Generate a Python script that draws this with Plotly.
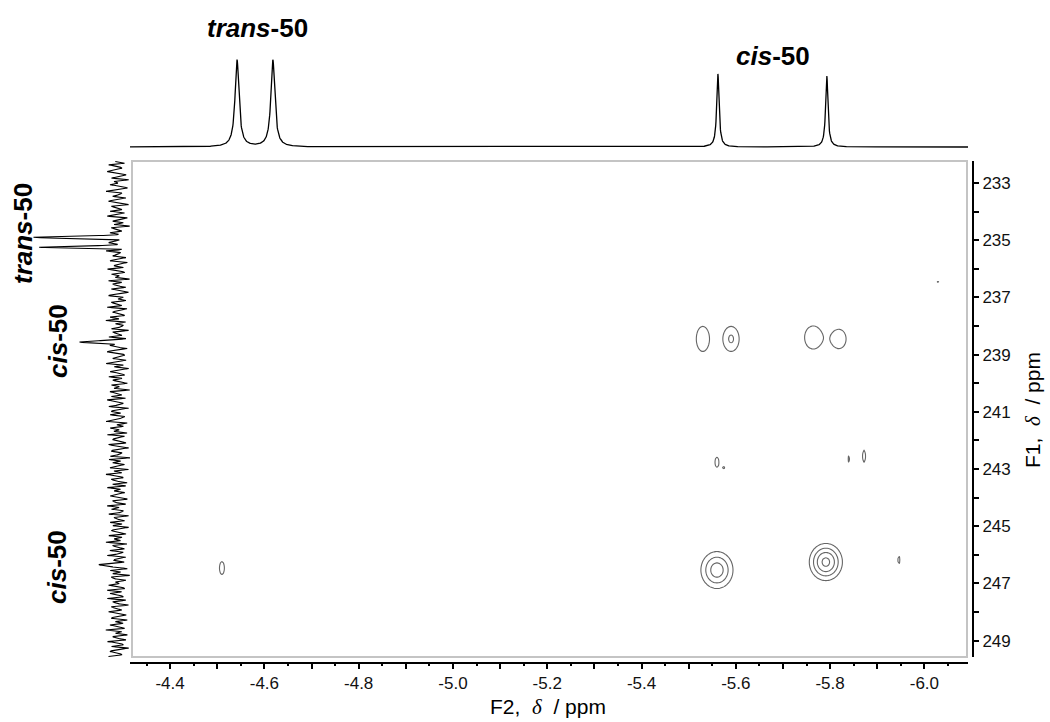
import numpy as np
import plotly.graph_objects as go

# ---------------- data ----------------
# Top (F2, 1H) projection peaks
top_ppm = [-4.542, -4.618, -5.562, -5.793]
top_height = [1.0, 1.0, 0.84, 0.82]
top_fwhm = [0.010, 0.010, 0.006, 0.006]

# Left (F1) projection peaks
left_ppm = [234.89, 235.24, 238.56, 246.36]
left_height = [1.0, 0.975, 0.5, 0.25]
left_sigma = [0.035, 0.035, 0.035, 0.035]

# Left projection baseline noise (read approximately)
left_noise = [
    2, -5, 7, -1, -3, 4, 8, 1, -6, -2, 5, -8, 3, 0, 6, -4, -7, 2, 9, -3,
    -1, 4, -6, 3, 7, -2, -8, 5, 1, -3, 6, -5, 2, 8, -7, -1, 4, -4, 3, -9,
    5, 1, -3, 6, -2, -6, 8, -4, 2, 7, -1, -5, 3, -8, 9, -2, 0, 4, -6, 2,
    6, -7, 1, 3, -4, 8, -2, -5, 5, -1, 2, -9, 7, -3, 4, 1, -6, 5, -2, -8,
    3, 7, -4, 0, -6, 5, 2, -3, 8, -7, 1, 4, -2, -5, 6, -1, 9, -6, 2, -4,
    -2, 5, -8, 4, 1, -3, 7, -6, 3, -1, -4, 6, 2, -7, 5, 8, -3, -5, 1, 4,
    -6, 2, 9, -4, 3, -8, 1, 6, -2, -5, 7, -3, 4, 0, -7, 5, -1, 3, -9, 6,
    1, -3, 5, -6, 8, 2, -4, -1, 7, -8, 3, 5, -2, 6, -5, -3, 4, 9, -7, 1,
    -4, 6, -1, 3, -7, 8, -5, 2, 4, -2, -6, 7, 1, -8, 3, 5, -3, -1, 6, -9,
    7, -2, 4, -5, 1, 6, -8, 3, -3, 9, -1, -4, 5, 2, -7, 4, -6, 8, -2, 3,
    -5, 1, 6, -3, -7, 4, 2, -6, 8, -1, 5, -4, -2, 7, -8, 3, 1, -5, 6, -3,
    4, -8, 2, 5, -1, -6, 7, -3, 3, -2, 9, -7, 4, 1, -5, 6, -4, -1, 8, -6,
    2, 3, -5, 7, -4, 1, -7, 6, -2, 4, -9, 5, 3, -6, 2, -1, 7, -3, -5, 8,
    -3, 6, -2, -4, 8, -6, 4, 1, -8, 5, 2, -3, 7, -1, -6, 3, 5, -7, 2, -4,
    6, -1, -5, 9, -3, 2, -7, 4, 1, -6, 8, -2, -4, 5, -8, 3, 6, -1, -3, 7,
]
noise_scale = 0.017

# 2D cross peaks (F2 ppm, F1 ppm, amplitude, widths in ppm)
peak_f2 = [-5.530, -5.590, -5.764, -5.819, -5.560, -5.791, -5.946, -4.510,
           -6.029, -5.560, -5.575, -5.840, -5.872]
peak_f1 = [238.45, 238.45, 238.40, 238.45, 246.53, 246.25, 246.18, 246.46,
           236.46, 242.76, 242.95, 242.65, 242.55]
peak_amp = [1.5, 1.8, 1.6, 1.5, 2.8, 3.3, 1.1, 1.3, 1.05, 1.2, 1.03, 1.1, 1.15]
peak_sx = [0.0153, 0.0157, 0.0186, 0.0165, 0.0237, 0.0227, 0.005, 0.0073,
           0.006, 0.007, 0.004, 0.004, 0.006]
peak_sy = [0.485, 0.403, 0.415, 0.369, 0.45, 0.42, 0.32, 0.31,
           0.10, 0.29, 0.08, 0.30, 0.40]

f2_range = [-4.315, -6.0925]
f1_range = [249.57, 232.23]

# ---------------- derived traces ----------------
FONT = "Liberation Sans, Arial, sans-serif"

# top projection
tx = np.linspace(f2_range[0], f2_range[1], 3000)
ty = np.zeros_like(tx)
for p, h, w in zip(top_ppm, top_height, top_fwhm):
    ty += h / (1 + ((tx - p) / (w / 2)) ** 2)

# left projection
f1_lo, f1_hi = 232.25, 249.55
noise_y = np.linspace(f1_lo, f1_hi, len(left_noise))
ly = np.linspace(f1_lo, f1_hi, 4000)
lx = np.interp(ly, noise_y, np.array(left_noise) * noise_scale)
for p, h, s in zip(left_ppm, left_height, left_sigma):
    lx += h * np.exp(-0.5 * ((ly - p) / s) ** 2)

# 2D grid
gx = np.arange(-4.30, -6.10, -0.003)
gy = np.arange(232.2, 249.6, 0.05)
X, Y = np.meshgrid(gx, gy)
Z = np.zeros_like(X)
for x0, y0, a, sx, sy in zip(peak_f2, peak_f1, peak_amp, peak_sx, peak_sy):
    Z += a * np.exp(-0.5 * (((X - x0) / sx) ** 2 + ((Y - y0) / sy) ** 2))
Z = np.round(Z, 3)

fig = go.Figure()
fig.add_trace(go.Contour(
    x=gx, y=gy, z=Z, autocontour=False,
    contours=dict(start=1, end=3.2, size=0.7, coloring="lines"),
    line=dict(width=1.1),
    colorscale=[[0, "#666666"], [1, "#666666"]],
    showscale=False, hoverinfo="skip", xaxis="x", yaxis="y",
))
fig.add_trace(go.Scatter(x=tx, y=ty, mode="lines",
                         line=dict(color="black", width=1.3),
                         xaxis="x2", yaxis="y2", hoverinfo="skip"))
fig.add_trace(go.Scatter(x=lx, y=ly, mode="lines",
                         line=dict(color="black", width=1.1),
                         xaxis="x3", yaxis="y3", hoverinfo="skip"))

W, H = 1050, 722
def px(xp):
    return xp / W
def py(yp):
    return 1 - yp / H

xt = [round(-4.4 - 0.1 * i, 1) for i in range(17)]
xt_text = [f"{v:.1f}" if i % 2 == 0 else "" for i, v in enumerate(xt)]
yt = list(range(233, 250))
yt_text = [str(v) if v % 2 == 1 else "" for v in yt]

def ann(text, x, y, size, angle=0, **kw):
    return dict(text=text, x=px(x), y=py(y), xref="paper", yref="paper",
                showarrow=False, xanchor="center", yanchor="middle",
                textangle=angle, font=dict(size=size, family=FONT, color="black"),
                **kw)

DELTA = "<i><span style='font-family:Liberation Serif,Times New Roman,serif'>δ</span></i>"

fig.update_layout(
    width=W, height=H,
    margin=dict(l=0, r=0, t=0, b=0),
    paper_bgcolor="white", plot_bgcolor="white",
    showlegend=False,
    font=dict(family=FONT, color="black", size=17),
    xaxis=dict(domain=[px(130), px(968)], range=f2_range, anchor="free",
               position=py(663), showline=True, linewidth=2, linecolor="black",
               ticks="outside", ticklen=5, tickwidth=1.5, tickcolor="black",
               tickmode="array", tickvals=xt, ticktext=xt_text,
               minor=dict(dtick=0.05, ticks="outside", ticklen=2, tickcolor="black"),
               showgrid=False, zeroline=False,
               tickfont=dict(size=17, family=FONT, color="#111")),
    yaxis=dict(domain=[py(657), py(161)], range=f1_range, anchor="free",
               side="right", position=px(973), showline=True, linewidth=2,
               linecolor="black", ticks="outside", ticklen=5, tickwidth=1.5,
               tickcolor="black", tickmode="array", tickvals=yt, ticktext=yt_text,
               showgrid=False, zeroline=False,
               tickfont=dict(size=17, family=FONT, color="#111")),
    xaxis2=dict(domain=[px(130), px(968)], matches="x", anchor="y2", visible=False),
    yaxis2=dict(domain=[py(160), py(40)], range=[-0.149, 1.23], anchor="x2",
                visible=False),
    xaxis3=dict(domain=[0, px(130)], range=[1.475, -0.15], anchor="y3",
                visible=False),
    yaxis3=dict(domain=[py(657), py(161)], matches="y", anchor="x3", visible=False),
    shapes=[dict(type="rect", xref="paper", yref="paper",
                 x0=px(132), x1=px(967), y0=py(657), y1=py(161),
                 line=dict(color="#c4c4c4", width=2), layer="above")],
    annotations=[
        ann("<b><i>trans</i>-50</b>", 257, 28, 26),
        ann("<b><i>cis</i>-50</b>", 773, 56, 26),
        ann("<b><i>trans</i>-50</b>", 23, 234, 26, -90),
        ann("<b><i>cis</i>-50</b>", 58, 341, 26, -90),
        ann("<b><i>cis</i>-50</b>", 57, 567, 26, -90),
        ann("F2,\u00a0\u00a0" + DELTA + "\u00a0\u00a0/\u00a0ppm", 548, 707, 21),
        ann("F1,\u00a0\u00a0" + DELTA + "\u00a0\u00a0/\u00a0ppm", 1033, 410, 21, -90),
    ],
)

# remove the browser's default 8px page margin so the figure fills the window
fig.write_html("out.html", config={"displayModeBar": False},
               post_script="document.body.style.margin='0px';")
